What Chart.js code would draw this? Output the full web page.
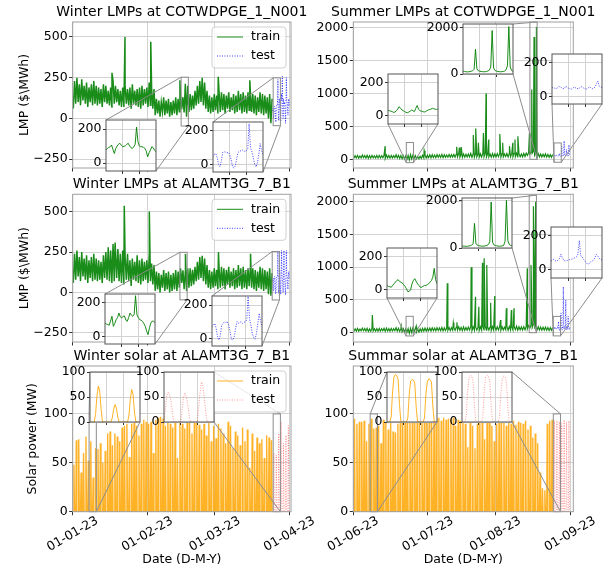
<!DOCTYPE html>
<html>
<head>
<meta charset="utf-8">
<title>LMP and solar, train / test</title>
<script src="https://cdn.jsdelivr.net/npm/chart.js@4.4.1/dist/chart.umd.min.js"></script>
<style>
  body { margin: 0; background: #fff; }
  #figure { position: relative; width: 605px; height: 572px; overflow: hidden; }
  #figure canvas { position: absolute; }
</style>
</head>
<body>
<div id="figure"></div>
<script>
// ---------------- data ----------------

// x axis: days since the first day of the season
const monthTickDays = [0, 31, 59, 90];
const winterTickLabels = ['01-01-23', '01-02-23', '01-03-23', '01-04-23'];
const summerTickLabels = ['01-06-23', '01-07-23', '01-08-23', '01-09-23'];
const testStartDay = 83;

const lmpWinterTicks = [-250, 0, 250, 500];
const lmpSummerTicks = [0, 500, 1000, 1500, 2000];
const solarTicks = [0, 50, 100];

// daily low / high of the hourly LMP (training part), plus the isolated spikes
const cotWinterLow = [
  60, 90, 100, 80, 110, 90, 70, 100, 80, 90,
  80, 90, 70, 100, 90, 80, 70, 90, 100, 80,
  70, 70, 90, 80, 60, 90, 80, 70, 60, 80,
  90, 70, 80, 60, 20, 30, 10, 40, 20, 30,
  10, 20, 30, 20, 40, 56, 36, 10, 40, 50,
  60, 80, 90, 100, 80, 60, 40, 30, 40, 50,
  30, 40, 50, 30, 60, 40, 50, 30, 40, 50,
  30, 40, 30, 50, 40, 30, 20, 40, 30, 20,
  30, 0, -30];
const cotWinterHigh = [
  230, 250, 210, 240, 200, 220, 190, 210, 230, 200,
  190, 180, 210, 200, 170, 190, 230, 200, 180, 170,
  190, 200, 180, 190, 210, 170, 180, 190, 200, 180,
  190, 220, 190, 180, 120, 110, 100, 130, 110, 120,
  100, 110, 130, 120, 140, 130, 212, 200, 150, 140,
  170, 200, 230, 250, 220, 170, 140, 130, 150, 140,
  160, 160, 150, 140, 160, 130, 150, 140, 170, 150,
  160, 140, 160, 160, 150, 140, 130, 160, 150, 140,
  130, 150, 120];
const cotWinterSpikeDays = [16.3, 21.7, 32.4, 44.5, 60.4, 73.5];
const cotWinterSpikeValues = [280, 500, 470, 234, 255, 234];
// test part, every 4 hours from day 83
const cotWinterTest = [
  45, 64, 0, 20, 74, 70,
  60, -10, -23, 70, 80, 80,
  80, 239, 40, -15, 60, 122,
  90, 30, -20, 100, 150, 110,
  260, 60, 0, 120, 90, 100,
  80, 40, -30, 90, 250, 110,
  100, 60, 20, 90, 120, 80];

const alaWinterLow = [
  60, 80, 100, 70, 100, 80, 60, 90, 70, 80,
  70, 80, 60, 90, 80, 70, 60, 70, 90, 70,
  60, 50, 80, 70, 40, 80, 70, 60, 50, 70,
  80, 60, 70, 50, 10, 20, 0, 30, 10, 20,
  0, 10, 20, 10, 30, 60, 20, 10, 30, 40,
  50, 70, 80, 90, 70, 50, 30, 20, 30, 40,
  20, 30, 40, 20, 50, 30, 40, 20, 30, 40,
  20, 30, 20, 40, 30, 20, 10, 30, 20, 10,
  20, -10, -20];
const alaWinterHigh = [
  240, 260, 220, 250, 210, 230, 200, 220, 240, 210,
  200, 190, 230, 250, 280, 260, 300, 310, 270, 240,
  260, 220, 240, 200, 210, 190, 230, 200, 210, 190,
  200, 230, 180, 170, 130, 120, 110, 140, 120, 130,
  110, 120, 140, 130, 150, 137, 130, 150, 150, 140,
  160, 190, 220, 228, 210, 170, 140, 130, 150, 140,
  150, 160, 150, 140, 160, 130, 150, 140, 170, 150,
  160, 140, 150, 160, 150, 140, 130, 160, 150, 140,
  130, 150, 120];
const alaWinterSpikeDays = [17.6, 21.4, 31.8, 46.8, 60.5, 73.8];
const alaWinterSpikeValues = [310, 537, 502, 239, 250, 240];
const alaWinterTest = [
  70, 90, 10, 20, 90, 100,
  80, -5, -10, 60, 95, 100,
  100, 250, 30, -5, 90, 150,
  100, 40, -12, 110, 260, 120,
  90, 60, 0, 120, 260, 100,
  80, 30, -15, 90, 260, 110,
  100, 60, 20, 100, 130, 90];

const cotSummerLow = [
  15, 20, 18, 22, 25, 20, 15, 18, 22, 20,
  18, 20, 25, 15, 20, 18, 22, 25, 20, 15,
  10, 5, 0, -10, 5, 15, 10, 8, 15, 20,
  20, 25, 22, 28, 25, 30, 28, 25, 30, 32,
  30, 35, 32, 38, 35, 30, 32, 35, 38, 30,
  35, 38, 32, 35, 40, 35, 38, 32, 35, 38,
  40, 35, 38, 42, 36, 40, 38, 42, 36, 40,
  38, 42, 60, 80, 90, 60, 40, 38, 35, 38,
  35, 32, 30];
const cotSummerHigh = [
  55, 60, 50, 65, 58, 62, 55, 60, 52, 58,
  60, 55, 62, 65, 58, 60, 55, 70, 62, 58,
  55, 52, 60, 70, 65, 58, 40, 45, 60, 65,
  62, 68, 70, 65, 72, 68, 75, 70, 66, 72,
  70, 75, 80, 85, 78, 82, 76, 80, 90, 85,
  88, 80, 85, 90, 95, 84, 80, 88, 82, 86,
  90, 85, 80, 88, 92, 86, 90, 95, 85, 82,
  88, 92, 100, 110, 120, 95, 85, 80, 78, 82,
  75, 70, 72];
const cotSummerSpikeDays = [13.2, 29.4, 42.9, 44.0, 44.8, 49.8, 50.8, 51.9, 54.0, 55.1, 56.2,
  60.8, 62.0, 64.8, 66.2, 67.1, 68.3, 73.1, 74.05, 75.0, 76.0];
const cotSummerSpikeValues = [200, 130, 190, 180, 185, 370, 470, 250, 400, 1000, 300,
  385, 250, 200, 250, 300, 350, 400, 1060, 1860, 2010];
const cotSummerTest = [
  50, 48, 58, 52, 45, 55,
  50, 45, 60, 55, 48, 52,
  45, 55, 50, 90, 60, 50,
  55, 45, 70, 200, 60, 50,
  50, 45, 80, 280, 70, 55,
  60, 50, 90, 150, 70, 60,
  55, 45, 100, 220, 80, 60];

const alaSummerLow = [
  20, 25, 22, 28, 30, 24, 20, 22, 26, 24,
  22, 25, 30, 20, 24, 22, 26, 30, 24, 20,
  14, 10, 5, -12, 0, 15, 12, 10, 18, 22,
  24, 28, 25, 30, 28, 32, 30, 28, 32, 35,
  32, 38, 35, 40, 38, 32, 35, 38, 40, 32,
  38, 40, 35, 38, 42, 38, 40, 35, 38, 40,
  42, 38, 40, 45, 38, 42, 40, 45, 38, 42,
  40, 45, 60, 70, 80, 60, 42, 40, 38, 40,
  38, 35, 36];
const alaSummerHigh = [
  60, 65, 55, 70, 62, 68, 58, 65, 60, 62,
  65, 60, 68, 70, 62, 66, 60, 75, 68, 62,
  60, 58, 62, 66, 75, 65, 55, 60, 65, 70,
  68, 72, 75, 70, 78, 72, 80, 75, 70, 78,
  75, 80, 85, 90, 82, 88, 80, 85, 95, 90,
  92, 85, 90, 95, 100, 88, 85, 92, 88, 90,
  95, 90, 85, 92, 96, 90, 95, 100, 90, 88,
  92, 96, 110, 120, 130, 100, 90, 85, 82, 86,
  80, 75, 78];
const alaSummerSpikeDays = [7.9, 19.9, 26.1, 39.0, 41.5, 43.0, 48.9, 50.7, 52.1, 53.6, 54.3,
  55.4, 57.0, 58.7, 61.1, 63.5, 65.6, 66.7, 72.2, 73.75, 74.75, 75.67];
const alaSummerSpikeValues = [270, 100, 100, 754, 150, 160, 998, 550, 397, 1069, 1136,
  1034, 458, 560, 194, 372, 347, 372, 983, 1035, 1932, 2000];
const alaSummerTest = [
  50, 60, 52, 65, 90, 55,
  50, 55, 60, 65, 90, 70,
  60, 170, 75, 40, 30, 90,
  60, 300, 80, 50, 40, 90,
  70, 700, 120, 60, 50, 100,
  80, 500, 100, 60, 40, 90,
  70, 250, 90, 55, 45, 80];

// daily peak of the solar output (MW)
const winterSolarTrain = [
  48, 73, 74, 40, 60, 77, 52, 72, 35, 65,
  64, 70, 50, 62, 80, 82, 68, 80, 77, 72,
  86, 88, 90, 56, 90, 92, 88, 78, 90, 94,
  92, 90, 92, 60, 94, 96, 97, 95, 88, 92,
  90, 86, 93, 55, 95, 90, 85, 96, 92, 80,
  94, 91, 89, 84, 90, 78, 93, 72, 88, 75,
  90, 85, 80, 70, 92, 88, 65, 82, 78, 68,
  86, 72, 84, 45, 80, 62, 76, 70, 74, 55,
  78, 76, 73];
const winterSolarTest = [60, 58, 80, 92, 70, 78, 88];
const summerSolarTrain = [
  95, 90, 92, 92, 93, 72, 90, 95, 85, 86,
  88, 70, 94, 91, 84, 93, 82, 81, 90, 95,
  94, 96, 95, 97, 93, 96, 95, 94, 96, 95,
  96, 95, 94, 97, 95, 96, 93, 96, 94, 95,
  95, 96, 88, 94, 93, 95, 90, 66, 92, 88,
  65, 90, 93, 94, 74, 91, 95, 88, 72, 90,
  93, 91, 92, 88, 94, 90, 93, 89, 92, 91,
  90, 93, 84, 88, 76, 80, 70, 40, 24, 22,
  90, 93, 94];
const summerSolarTest = [93, 93, 92, 90, 94, 92, 93];

// zoomed windows (3 days, one value every 2 hours)
const cotWinterZoomTrain = [76, 85, 92, 96, 106, 80, 56, 85, 100, 110, 116, 105,
  96, 98, 102, 110, 116, 100, 90, 86, 95, 110, 212, 126,
  100, 96, 96, 92, 86, 70, 36, 60, 76, 96, 90, 75, 66];
const cotWinterZoomTest = [45, 60, 64, 40, 0, -14, 20, 70, 74, 72, 68, 70,
  60, 30, -10, -23, -10, 30, 70, 76, 80, 85, 80, 75,
  80, 90, 239, 100, 74, 40, 0, -15, 10, 60, 122, 80, 60];
const cotSummerZoomLow = [33, 30, 28, 25, 20, 22, 30, 40, 55, 45, 35, 30,
  25, 20, 18, 22, 28, 35, 30, 25, 45, 62, 40, 30,
  28, 25, 22, 25, 30, 35, 38, 40, 45, 42, 40, 38, 42];
const cotSummerZoomPeak = [120, 110, 100, 90, 95, 105, 120, 140, 200, 1060, 220, 140,
  120, 110, 100, 95, 100, 110, 130, 170, 300, 1860, 260, 150,
  125, 110, 100, 95, 100, 110, 130, 180, 350, 2030, 300, 150, 120];
const cotSummerZoomTest = [50, 52, 48, 45, 50, 58, 55, 50, 45, 48, 60, 52,
  48, 45, 42, 48, 55, 50, 47, 45, 50, 58, 52, 48,
  45, 42, 50, 55, 50, 45, 48, 55, 75, 90, 60, 55, 52];
const alaWinterZoomTrain = [78, 72, 70, 65, 90, 118, 59, 75, 98, 110, 137, 115,
  108, 118, 120, 95, 88, 110, 137, 125, 118, 130, 239, 127,
  110, 98, 95, 88, 75, 59, 30, 10, 50, 78, 90, 88, 80];
const alaWinterZoomTest = [70, 80, 90, 60, 10, -10, 20, 80, 90, 100, 95, 100,
  80, 40, -5, -10, 10, 60, 100, 90, 95, 100, 90, 95,
  100, 110, 250, 120, 80, 30, 5, -5, 30, 90, 150, 100, 70];
const alaSummerZoomLow = [25, 20, 18, 14, 25, 35, 45, 55, 60, 50, 45, 40,
  30, 20, 5, -12, -10, 0, 35, 55, 66, 50, 35, 25,
  14, 15, 20, 25, 25, 30, 35, 45, 55, 75, 128, 60, 35];
const alaSummerZoomPeak = [90, 80, 75, 70, 75, 85, 100, 120, 180, 1035, 200, 120,
  100, 90, 80, 75, 80, 95, 110, 150, 260, 1932, 240, 130,
  105, 90, 80, 75, 80, 90, 110, 280, 2000, 320, 150, 110, 95];
const alaSummerZoomTest = [50, 55, 60, 52, 50, 55, 65, 90, 70, 55, 50, 52,
  55, 58, 60, 62, 65, 70, 75, 90, 170, 80, 75, 60,
  50, 40, 30, 35, 45, 50, 55, 70, 90, 80, 65, 60, 58];
const winterSolarZoomTrain = [0, 0, 0, 0, 15, 52, 72, 62, 25, 0, 0, 0,
  0, 0, 0, 0, 8, 25, 35, 28, 10, 0, 0, 0,
  0, 0, 0, 0, 12, 45, 65, 55, 20, 0, 0, 0, 0];
const winterSolarZoomTest = [0, 25, 52, 60, 55, 42, 20, 0, 0, 0, 0, 0,
  0, 22, 50, 58, 50, 38, 15, 0, 0, 0, 0, 0,
  0, 30, 60, 80, 72, 50, 20, 0, 0, 0, 0, 0, 0];
const summerSolarZoomTrain = [0, 0, 0, 10, 60, 90, 95, 93, 85, 35, 0, 0,
  0, 0, 0, 8, 55, 82, 85, 84, 78, 30, 0, 0,
  0, 0, 0, 8, 55, 80, 86, 85, 80, 32, 0, 0, 0];
const summerSolarZoomTest = [0, 0, 0, 10, 60, 88, 93, 92, 80, 30, 0, 0,
  0, 0, 0, 10, 62, 90, 93, 92, 82, 32, 0, 0,
  0, 0, 0, 10, 58, 86, 92, 90, 80, 30, 0, 0, 0];

// ---------------- series builders ----------------

function dailyBand(lows, highs, spikeDays, spikeValues) {
    const pts = [];
    lows.forEach((lo, d) => {
        pts.push({x: d + 0.25, y: lo});
        pts.push({x: d + 0.75, y: highs[d]});
    });
    spikeDays.forEach((d, i) => pts.push({x: d, y: spikeValues[i]}));
    return pts.sort((a, b) => a.x - b.x);
}

function stepSeries(startDay, stepDays, values) {
    return values.map((v, i) => ({x: startDay + i * stepDays, y: v}));
}

// night is zero, one peak per day
function solarDays(startDay, peaks) {
    const pts = [];
    peaks.forEach((p, i) => {
        const d = startDay + i;
        pts.push({x: d + 0.27, y: 0}, {x: d + 0.5, y: p}, {x: d + 0.73, y: 0});
    });
    return pts;
}

// ---------------- styles / layout ----------------

Chart.defaults.font.family = "'DejaVu Sans', sans-serif";
Chart.defaults.font.size = 12.5;
Chart.defaults.color = '#000';

const FONT = "12.5px 'DejaVu Sans'";
const GRID = '#d2d2d2';
const TICK = '#333';
const GREEN = 'rgba(0,128,0,0.9)';
const BLUE = 'rgba(0,0,255,0.75)';
const ORANGE = 'rgba(255,165,0,0.85)';
const PINK = 'rgba(255,0,0,0.4)';
const DOTS = [1, 1.5];

const LEFT = {cLeft: 0, cWidth: 330, plotLeft: 72.7, plotRight: 291, xMax: 90.6, tickLabels: winterTickLabels};
const RIGHT = {cLeft: 305, cWidth: 300, plotLeft: 353.3, plotRight: 573.3, xMax: 91.3, tickLabels: summerTickLabels};
const ROWS = [
    {cTop: 0, plotTop: 22, plotBottom: 168, xAxisH: 16, labels: false},
    {cTop: 172, plotTop: 194.3, plotBottom: 342, xAxisH: 16, labels: false},
    {cTop: 344, plotTop: 366, plotBottom: 511.7, xAxisH: 60.3, labels: true}
];

const fig = document.getElementById('figure');

function addCanvas(left, top, width, height) {
    const c = document.createElement('canvas');
    c.width = width;
    c.height = height;
    c.style.left = left + 'px';
    c.style.top = top + 'px';
    c.style.width = width + 'px';
    c.style.height = height + 'px';
    fig.appendChild(c);
    return c;
}

const minusSign = v => String(v).replace('-', '\u2212');

// title, frame, white inset background, zoom rectangles with connectors,
// legend and rotated (centred) date labels
const panelDecor = {
    id: 'panelDecor',
    beforeDraw(chart, args, opts) {
        if (!opts.fill) return;
        const {ctx, chartArea: a} = chart;
        ctx.save();
        ctx.fillStyle = '#fff';
        ctx.fillRect(a.left, a.top, a.right - a.left, a.bottom - a.top);
        ctx.restore();
    },
    afterDraw(chart, args, opts) {
        const {ctx, chartArea: a, scales} = chart;
        ctx.save();
        (opts.zooms || []).forEach(z => {
            const l = scales.x.getPixelForValue(z.x0);
            const r = scales.x.getPixelForValue(z.x0 + 3);
            const t = Math.max(a.top, scales.y.getPixelForValue(z.yMax));
            const b = Math.min(a.bottom, scales.y.getPixelForValue(z.yMin));
            const ox = z.left - opts.origin[0];
            const oy = z.top - opts.origin[1];
            const box = {tl: [ox, oy], tr: [ox + z.w, oy], bl: [ox, oy + z.h], br: [ox + z.w, oy + z.h]};
            const rect = {tl: [l, t], tr: [r, t], bl: [l, b], br: [r, b]};
            ctx.strokeStyle = '#8c8c8c';
            ctx.lineWidth = 1;
            ctx.strokeRect(l, t, r - l, b - t);
            ctx.beginPath();
            z.corners.forEach(c => {
                ctx.moveTo(box[c][0], box[c][1]);
                ctx.lineTo(rect[c][0], rect[c][1]);
            });
            ctx.stroke();
        });
        if (opts.legend) {
            const w = 74, h = 41;
            const x = a.right - 5 - w, y = a.top + 5;
            ctx.fillStyle = 'rgba(255,255,255,0.8)';
            ctx.strokeStyle = '#d0d0d0';
            ctx.beginPath();
            ctx.roundRect(x, y, w, h, 3);
            ctx.fill();
            ctx.stroke();
            opts.legend.forEach((it, i) => {
                const cy = y + 10 + i * 19;
                ctx.strokeStyle = it.color;
                ctx.setLineDash(it.dash);
                ctx.beginPath();
                ctx.moveTo(x + 5, cy);
                ctx.lineTo(x + 31, cy);
                ctx.stroke();
                ctx.setLineDash([]);
                ctx.fillStyle = '#000';
                ctx.font = FONT;
                ctx.textAlign = 'left';
                ctx.textBaseline = 'middle';
                ctx.fillText(it.label, x + 39, cy);
            });
        }
        ctx.strokeStyle = opts.frame;
        ctx.lineWidth = 1;
        ctx.strokeRect(a.left, a.top, a.right - a.left, a.bottom - a.top);

        ctx.fillStyle = '#000';
        ctx.textAlign = 'center';
        ctx.textBaseline = 'middle';
        if (opts.title) {
            ctx.font = "14px 'DejaVu Sans'";
            ctx.fillText(opts.title, (a.left + a.right) / 2, a.top - 9.5);
        }
        if (opts.xLabels) {
            ctx.font = FONT;
            scales.x.ticks.forEach((t, i) => {
                ctx.save();
                ctx.translate(scales.x.getPixelForValue(t.value), a.bottom + 22.5);
                ctx.rotate(-Math.PI / 6);
                ctx.fillText(opts.xLabels[i], 0, 0);
                ctx.restore();
            });
        }
        ctx.restore();
    }
};

function mainChart(p) {
    const col = p.col, row = ROWS[p.row];
    const cH = Math.ceil(row.plotBottom + row.xAxisH - row.cTop);
    const canvas = addCanvas(col.cLeft, row.cTop, col.cWidth, cH);
    new Chart(canvas, {
        type: 'line',
        data: {
            datasets: [
                {label: 'train', data: p.train, borderColor: p.colors[0], borderWidth: p.lineWidth, pointRadius: 0},
                {label: 'test', data: p.test, borderColor: p.colors[1], borderWidth: 1, borderDash: DOTS, pointRadius: 0}
            ]
        },
        options: {
            responsive: false,
            animation: false,
            devicePixelRatio: 1,
            parsing: false,
            layout: {
                autoPadding: false,
                padding: {left: 0, top: row.plotTop - row.cTop, bottom: 0, right: col.cLeft + col.cWidth - col.plotRight}
            },
            plugins: {
                legend: {display: false},
                tooltip: {enabled: false},
                title: {display: false},
                panelDecor: {
                    frame: '#a0a0a0', origin: [col.cLeft, row.cTop], zooms: p.insets, title: p.title,
                    xLabels: row.labels ? col.tickLabels : null,
                    legend: p.legend ? [
                        {label: 'train', color: p.colors[0], dash: []},
                        {label: 'test', color: p.colors[1], dash: DOTS}
                    ] : null
                }
            },
            scales: {
                x: {
                    type: 'linear', min: 0, max: col.xMax,
                    afterBuildTicks: s => { s.ticks = monthTickDays.map(v => ({value: v})); },
                    afterFit: s => { s.height = row.xAxisH; },
                    ticks: {display: false},
                    grid: {color: GRID, tickColor: TICK, tickLength: 3.5},
                    border: {display: false},
                    title: row.labels
                        ? {display: true, text: 'Date (D-M-Y)', color: '#000', padding: {top: 0, bottom: 4.5}}
                        : {display: false}
                },
                y: {
                    min: p.yMin, max: p.yMax,
                    afterBuildTicks: s => { s.ticks = p.yTicks.map(v => ({value: v})); },
                    afterFit: s => { s.width = col.plotLeft - col.cLeft; },
                    ticks: {color: '#000', padding: 1.5, callback: minusSign},
                    grid: {color: GRID, tickColor: TICK, tickLength: 3.5},
                    border: {display: false},
                    title: p.yTitle
                        ? {display: true, text: p.yTitle, color: '#000', padding: {top: p.yTitlePad, bottom: 0}}
                        : {display: false}
                }
            }
        },
        plugins: [panelDecor]
    });
}

function insetChart(ins) {
    const L = 36, T = 9, R = 3, B = 9;
    const canvas = addCanvas(ins.left - L, ins.top - T, L + ins.w + R, T + ins.h + B);
    new Chart(canvas, {
        type: 'line',
        data: {
            datasets: [{
                data: stepSeries(ins.x0, 2 / 24, ins.values),
                borderColor: ins.color, borderDash: ins.dash, borderWidth: 1, pointRadius: 0
            }]
        },
        options: {
            responsive: false,
            animation: false,
            devicePixelRatio: 1,
            parsing: false,
            layout: {autoPadding: false, padding: {left: 0, top: T, right: R, bottom: 0}},
            plugins: {
                legend: {display: false},
                tooltip: {enabled: false},
                title: {display: false},
                panelDecor: {fill: true, frame: '#555'}
            },
            scales: {
                x: {
                    type: 'linear', min: ins.x0, max: ins.x0 + 3,
                    afterBuildTicks: s => { s.ticks = [{value: ins.x0 + 1}, {value: ins.x0 + 2}]; },
                    afterFit: s => { s.height = B; },
                    ticks: {display: false},
                    grid: {color: GRID, tickColor: TICK, tickLength: 3},
                    border: {display: false}
                },
                y: {
                    min: ins.yMin, max: ins.yMax,
                    afterBuildTicks: s => { s.ticks = ins.yTicks.map(v => ({value: v})); },
                    afterFit: s => { s.width = L; },
                    ticks: {color: '#000', padding: 1.5, callback: minusSign},
                    grid: {color: GRID, tickColor: TICK, tickLength: 3},
                    border: {display: false}
                }
            }
        },
        plugins: [panelDecor]
    });
}

function zoom(left, top, w, h, x0, yMin, yMax, yTicks, values, test, colors, corners) {
    return {left, top, w, h, x0, yMin, yMax, yTicks, values, corners,
        color: test ? colors[1] : colors[0], dash: test ? DOTS : []};
}

const lmpColors = [GREEN, BLUE];
const solarColors = [ORANGE, PINK];
const z200 = [0, 200], z2000 = [0, 2000];

const panels = [
    {
        col: LEFT, row: 0, title: 'Winter LMPs at COTWDPGE_1_N001', colors: lmpColors, legend: true, lineWidth: 1.5,
        yMin: -305, yMax: 592, yTicks: lmpWinterTicks, yTitle: 'LMP ($\\MWh)', yTitlePad: 17.5,
        train: dailyBand(cotWinterLow, cotWinterHigh, cotWinterSpikeDays, cotWinterSpikeValues),
        test: stepSeries(testStartDay, 4 / 24, cotWinterTest),
        insets: [
            zoom(106, 120, 50, 51, 45, -47, 253, z200, cotWinterZoomTrain, false, lmpColors, ['tl', 'br']),
            zoom(213, 122, 50, 50, 83.2, -45, 249, z200, cotWinterZoomTest, true, lmpColors, ['tl', 'br'])
        ]
    },
    {
        col: RIGHT, row: 0, title: 'Summer LMPs at COTWDPGE_1_N001', colors: lmpColors, legend: false, lineWidth: 1.2,
        yMin: -132, yMax: 2087, yTicks: lmpSummerTicks,
        train: dailyBand(cotSummerLow, cotSummerHigh, cotSummerSpikeDays, cotSummerSpikeValues),
        test: stepSeries(testStartDay, 4 / 24, cotSummerTest),
        insets: [
            zoom(388, 74, 50, 50, 22, -51, 255, z200, cotSummerZoomLow, false, lmpColors, ['bl', 'br']),
            zoom(463, 24, 50, 50, 73.3, 0, 2140, z2000, cotSummerZoomPeak, false, lmpColors, ['tr', 'br']),
            zoom(552, 54, 50, 50, 83.3, -45, 249, z200, cotSummerZoomTest, true, lmpColors, ['bl', 'br'])
        ]
    },
    {
        col: LEFT, row: 1, title: 'Winter LMPs at ALAMT3G_7_B1', colors: lmpColors, legend: true, lineWidth: 1.5,
        yMin: -306, yMax: 608, yTicks: lmpWinterTicks, yTitle: 'LMP ($\\MWh)', yTitlePad: 17.5,
        train: dailyBand(alaWinterLow, alaWinterHigh, alaWinterSpikeDays, alaWinterSpikeValues),
        test: stepSeries(testStartDay, 4 / 24, alaWinterTest),
        insets: [
            zoom(105, 294, 50, 50, 44.5, -45, 249, z200, alaWinterZoomTrain, false, lmpColors, ['tl', 'br']),
            zoom(212, 296, 50, 50, 82.8, -46, 254, z200, alaWinterZoomTest, true, lmpColors, ['tl', 'br'])
        ]
    },
    {
        col: RIGHT, row: 1, title: 'Summer LMPs at ALAMT3G_7_B1', colors: lmpColors, legend: false, lineWidth: 1.2,
        yMin: -142, yMax: 2113, yTicks: lmpSummerTicks,
        train: dailyBand(alaSummerLow, alaSummerHigh, alaSummerSpikeDays, alaSummerSpikeValues),
        test: stepSeries(testStartDay, 4 / 24, alaSummerTest),
        insets: [
            zoom(387, 248, 50, 50, 21.9, -50, 250, z200, alaSummerZoomLow, false, lmpColors, ['bl', 'br']),
            zoom(462, 198, 50, 50, 73, 0, 2100, z2000, alaSummerZoomPeak, false, lmpColors, ['tr', 'br']),
            zoom(551, 227, 51, 51, 83, -49, 249, z200, alaSummerZoomTest, true, lmpColors, ['bl', 'br'])
        ]
    },
    {
        col: LEFT, row: 2, title: 'Winter solar at ALAMT3G_7_B1', colors: solarColors, legend: true, lineWidth: 1.4,
        yMin: 0, yMax: 149, yTicks: solarTicks, yTitle: 'Solar power (MW)', yTitlePad: 25.5,
        train: solarDays(0, winterSolarTrain),
        test: solarDays(testStartDay, winterSolarTest),
        insets: [
            zoom(90, 372, 50, 50, 6.8, 0, 100, solarTicks, winterSolarZoomTrain, false, solarColors, ['tl', 'br']),
            zoom(164, 372, 50, 50, 83.2, 0, 100, solarTicks, winterSolarZoomTest, true, solarColors, ['tr', 'br'])
        ]
    },
    {
        col: RIGHT, row: 2, title: 'Summar solar at ALAMT3G_7_B1', colors: solarColors, legend: false, lineWidth: 1.4,
        yMin: 0, yMax: 149, yTicks: solarTicks,
        train: solarDays(0, summerSolarTrain),
        test: solarDays(testStartDay, summerSolarTest),
        insets: [
            zoom(387, 372, 50, 50, 7, 0, 100, solarTicks, summerSolarZoomTrain, false, solarColors, ['tl', 'br']),
            zoom(462, 372, 50, 50, 83, 0, 100, solarTicks, summerSolarZoomTest, true, solarColors, ['tr', 'br'])
        ]
    }
];

panels.forEach(mainChart);
panels.forEach(p => p.insets.forEach(insetChart));
</script>
</body>
</html>
